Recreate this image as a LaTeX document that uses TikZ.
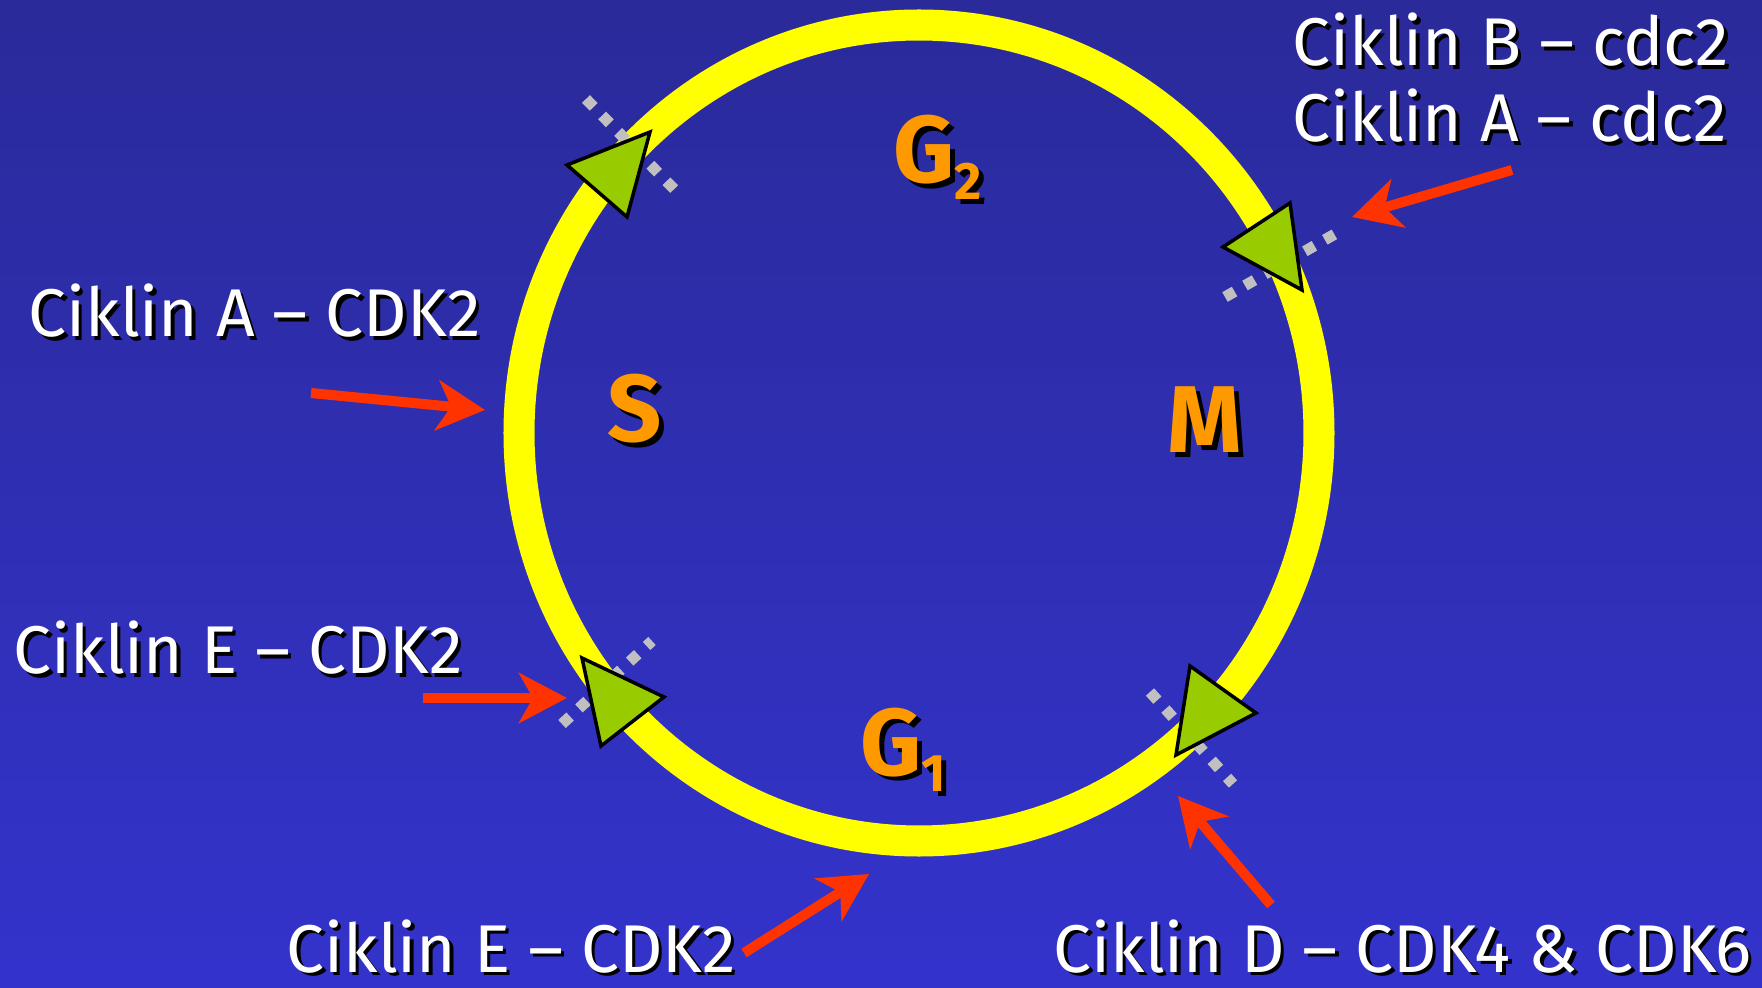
\documentclass[tikz,border=0pt]{standalone}
\usepackage{fontspec}
\setmainfont{Fira Sans}
\usetikzlibrary{arrows.meta}

\definecolor{bgtop}{HTML}{2A2A9A}
\definecolor{bgbot}{HTML}{3333CC}
\definecolor{ringyel}{HTML}{FFFF00}
\definecolor{trigreen}{HTML}{99CC00}
\definecolor{dotgray}{HTML}{C0C0C0}
\definecolor{arrred}{HTML}{FF3300}
\definecolor{phaseor}{HTML}{FF9900}

% text with a dark drop shadow
\newcommand{\shadowed}[1]{\leavevmode\rlap{\kern0.05em\raisebox{-0.05em}{\color{black}#1}}#1}

\tikzset{
  cyclin/.style={text=white, inner sep=0pt, anchor=base west, font=\fontsize{19.2}{22}\selectfont},
  phase/.style={text=phaseor, inner sep=0pt, anchor=base west, font=\fontsize{27}{30}\selectfont\bfseries},
  hit/.style={draw=arrred, line width=0.1cm, -{Stealth[length=0.48cm, width=0.5cm, inset=0.14cm]}},
  checkpt/.style={draw=dotgray, line width=0.11cm, dash pattern=on 0.11cm off 0.12cm},
  gate/.style={fill=trigreen, draw=black, line width=0.035cm, line join=miter},
}

\begin{document}
\begin{tikzpicture}[x=0.01cm, y=-0.01cm]
  % Background
  \shade[top color=bgtop, bottom color=bgbot] (0,0) rectangle (1762,988);
  \useasboundingbox (0,0) rectangle (1762,988);

  % Ring
  \draw[ringyel, line width=0.31cm] (919,433) ellipse [x radius=400, y radius=408];

  % Checkpoints
  \draw[checkpt] (586,99) -- (676,191);
  \draw[checkpt] (1225,297) -- (1335,234);
  \draw[checkpt] (562,724) -- (652,641);
  \draw[checkpt] (1150,692) -- (1233,784);

  % Direction marks
  \draw[gate] (567,165) -- (650,132) -- (627,217) -- cycle;
  \draw[gate] (1223,247) -- (1290,203) -- (1302,290) -- cycle;
  \draw[gate] (582,658) -- (664,697) -- (601,746) -- cycle;
  \draw[gate] (1190,666) -- (1256,713) -- (1176,755) -- cycle;

  % Phases
  \node[phase] (g2) at (893,183) {\shadowed{G\raisebox{-4.8pt}{\fontsize{15}{17}\selectfont 2}}};
  \node[phase] (s)  at (607,442) {\shadowed{S}};
  \node[phase] (m)  at (1167,453) {\shadowed{M}};
  \node[phase] (g1) at (860,775) {\shadowed{G\raisebox{-4.8pt}{\fontsize{15}{17}\selectfont 1}}};

  % Cyclins
  \node[cyclin] (cb)  at (1292,66)  {\shadowed{Ciklin B – cdc2}};
  \node[cyclin] (cac) at (1292,142) {\shadowed{Ciklin A – cdc2}};
  \node[cyclin] (ca)  at (28,337)   {\shadowed{Ciklin A – CDK2}};
  \node[cyclin] (ce)  at (13,674)   {\shadowed{Ciklin E – CDK2}};
  \node[cyclin] (ceb) at (286,972)  {\shadowed{Ciklin E – CDK2}};
  \node[cyclin] (cd)  at (1053,972) {\shadowed{Ciklin D – CDK4 \& CDK6}};

  % Arrows
  \coordinate (t1) at (1512,170);
  \coordinate (h1) at (1352,217);
  \coordinate (t2) at (311,393);
  \coordinate (h2) at (485,410);
  \coordinate (t3) at (423,698);
  \coordinate (h3) at (567,698);
  \coordinate (t4) at (744,953);
  \coordinate (h4) at (869,874);
  \coordinate (t5) at (1271,905);
  \coordinate (h5) at (1178,796);

  \draw[hit] (t1) -- (h1);
  \draw[hit] (t2) -- (h2);
  \draw[hit] (t3) -- (h3);
  \draw[hit] (t4) -- (h4);
  \draw[hit] (t5) -- (h5);
\end{tikzpicture}
\end{document}
